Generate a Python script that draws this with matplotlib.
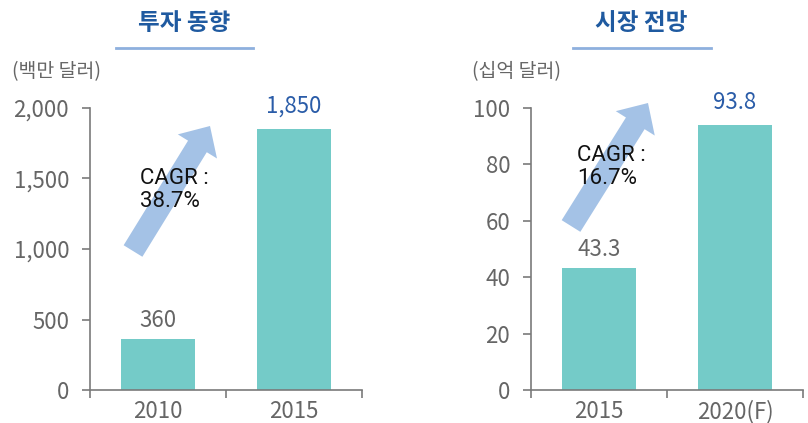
import matplotlib
matplotlib.use("Agg")
import matplotlib.pyplot as plt
import matplotlib.patches as mpatches
from matplotlib import font_manager

plt.rcParams['font.family'] = ['Noto Sans CJK KR', 'DejaVu Sans']

# data
invest_years = ['2010', '2015']
invest_values = [360, 1850]
invest_labels = ['360', '1,850']
market_years = ['2015', '2020(F)']
market_values = [43.3, 93.8]
market_labels = ['43.3', '93.8']

bar_color = '#74CBC8'
axis_color = '#7a7a7a'
text_gray = '#666666'
title_blue = '#1F5AA0'
value_blue = '#2A5CA8'
arrow_color = '#A4C2E6'
line_color = '#8EB0DE'

W, H = 808, 423
fig = plt.figure(figsize=(W / 100, H / 100), dpi=100)

print(sorted({(f.name, f.weight) for f in font_manager.fontManager.ttflist if 'CJK' in f.name}))


def px_axes(x0, x1, y_top, y_bot):
    return fig.add_axes([x0 / W, 1 - y_bot / H, (x1 - x0) / W, (y_bot - y_top) / H])


def bar_panel(ax, cats, vals, labels, ymax, yticks, ytick_labels):
    x = list(range(len(cats)))
    ax.bar(x, vals, width=0.54, color=bar_color, zorder=2)
    ax.set_xlim(-0.5, len(cats) - 0.5)
    ax.set_ylim(0, ymax)
    for s in ['top', 'right']:
        ax.spines[s].set_visible(False)
    for s in ['left', 'bottom']:
        ax.spines[s].set_color(axis_color)
        ax.spines[s].set_linewidth(1.2)
    ax.set_yticks(yticks)
    ax.set_yticklabels(ytick_labels, fontweight='light')
    ax.tick_params(axis='y', length=6, width=1.2, color=axis_color,
                   labelcolor=text_gray, labelsize=16, pad=9)
    ax.set_xticks([i - 0.5 for i in range(len(cats) + 1)])
    ax.set_xticklabels([])
    ax.tick_params(axis='x', which='major', length=6, width=1.2, color=axis_color)
    ax.set_xticks(x, minor=True)
    ax.set_xticklabels(cats, minor=True, fontweight='light')
    ax.tick_params(axis='x', which='minor', length=0, labelcolor=text_gray,
                   labelsize=16, pad=7)
    for i, (v, lab) in enumerate(zip(vals, labels)):
        last = i == len(vals) - 1
        ax.annotate(lab, (i, v), xytext=(0, 8 if last else 5), textcoords='offset points',
                    ha='center', va='bottom', fontsize=16, fontweight='light',
                    color=value_blue if last else text_gray)


ax1 = px_axes(90, 362, 108, 390)
bar_panel(ax1, invest_years, invest_values, invest_labels, 2000,
          [0, 500, 1000, 1500, 2000], ['0', '500', '1,000', '1,500', '2,000'])

ax2 = px_axes(531, 803, 108, 390)
bar_panel(ax2, market_years, market_values, market_labels, 100,
          [0, 20, 40, 60, 80, 100], ['0', '20', '40', '60', '80', '100'])

# overlay in pixel coords for titles, arrows and notes
ov = fig.add_axes([0, 0, 1, 1], zorder=5)
ov.set_xlim(0, W)
ov.set_ylim(H, 0)
ov.axis('off')
ov.patch.set_alpha(0)

ov.text(184, 23, '투자 동향', ha='center', va='center', fontsize=17,
        fontweight='bold', color=title_blue)
ov.plot([116, 253], [48, 48], color=line_color, lw=2)
ov.text(641, 23, '시장 전망', ha='center', va='center', fontsize=17,
        fontweight='bold', color=title_blue)
ov.plot([573, 711], [48, 48], color=line_color, lw=2)

ov.text(12, 72, '(백만 달러)', ha='left', va='center', fontsize=14,
        fontweight='light', color=text_gray)
ov.text(472, 72, '(십억 달러)', ha='left', va='center', fontsize=14,
        fontweight='light', color=text_gray)

for (x0, y0, x1, y1) in [(133, 251, 210, 126), (571, 226, 648, 103)]:
    ov.add_patch(mpatches.FancyArrow(x0, y0, x1 - x0, y1 - y0, width=22,
                                     head_width=46, head_length=24,
                                     length_includes_head=True,
                                     color=arrow_color, lw=0))

ov.text(140, 168, 'CAGR :\n38.7%', ha='left', va='top', fontsize=16,
        family=['Roboto', 'DejaVu Sans'], color='#111111', linespacing=1.12)
ov.text(577, 145, 'CAGR :\n16.7%', ha='left', va='top', fontsize=16,
        family=['Roboto', 'DejaVu Sans'], color='#111111', linespacing=1.12)

fig.savefig('out.png', dpi=100)
